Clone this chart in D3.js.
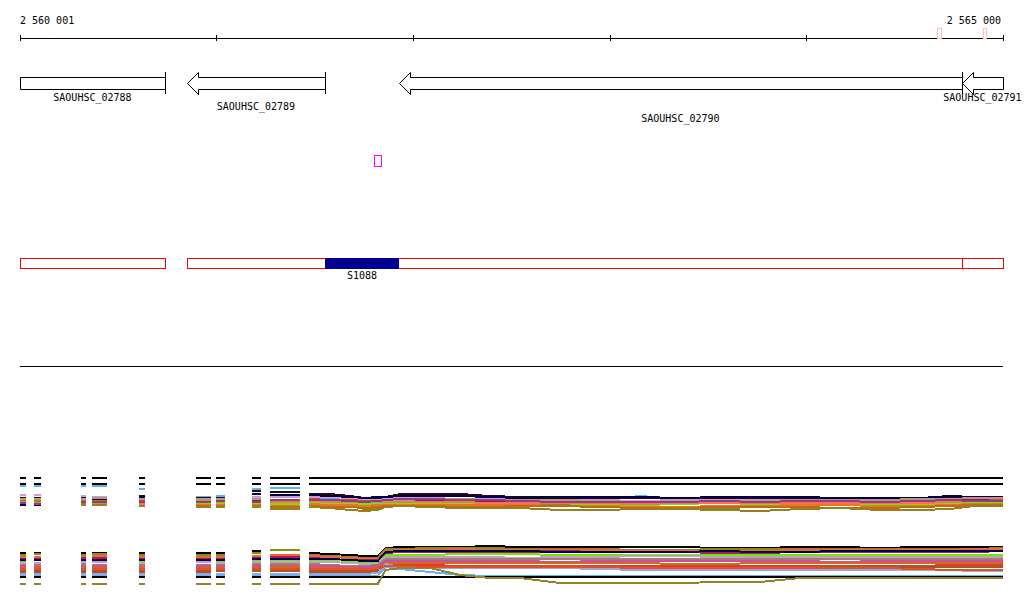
<!DOCTYPE html>
<html><head><meta charset="utf-8">
<script src="https://cdn.jsdelivr.net/npm/d3@7"></script>
<style>
body{margin:0;background:#fff;}
svg{display:block;}
text{font-family:"DejaVu Sans Mono","Liberation Mono",monospace;font-size:10px;fill:#000;}
</style>
</head><body>
<svg id="chart" width="1024" height="611"></svg>
<script>
// ---------- data ----------
const viewStart = 2560001, viewEnd = 2565000;
const axisTicks = [2560001, 2561000, 2562000, 2563000, 2564000, 2565000];
const axisLabels = ["2 560 001", "2 565 000"];

const geneNames   = ["SAOUHSC_02788", "SAOUHSC_02789", "SAOUHSC_02790", "SAOUHSC_02791"];
const geneStarts  = [2559700, 2560850, 2561928, 2564791];
const geneEnds    = [2560738, 2561552, 2564791, 2565300];
const geneStrands = ["-", "-", "-", "-"];
const geneLabelRows = [0, 1, 2, 0];

const unitStarts = [2559700, 2560850, 2564791];
const unitEnds   = [2560738, 2564791, 2565300];

const srnaNames  = ["S1088"];
const srnaStarts = [2561552];
const srnaEnds   = [2561928];

const siteStarts = [2561801];
const siteEnds   = [2561837];

const markStarts = [2564665, 2564898];
const markEnds   = [2564685, 2564914];

// coverage windows: short probe segments, then a continuous stretch
const segStarts = [2560001, 2560072, 2560311, 2560367, 2560606, 2560896, 2560998, 2561181, 2561272];
const segEnds   = [2560032, 2560108, 2560337, 2560443, 2560637, 2560972, 2561043, 2561226, 2561424];
const longPos = [2561470, 2561580, 2561680, 2561755, 2561820, 2561860, 2561935, 2562085, 2562240, 2562390,
                 2562545, 2562745, 2562950, 2563155, 2563355, 2563560, 2563765, 2563970, 2564170, 2564375,
                 2564580, 2564730, 2564855, 2565000];

const upperColors = ["#000000","#000000","#5ab4f0","#2a0a0a","#c8a0c8","#e6402a","#a0105a","#8c8c10",
                     "#66ee00","#e8781e","#c8641e","#96821a","#00004b","#ff6e50","#b49a78","#8c3c8c"];
const upperShort = [
  [42,42,42,42,42,42,42,42,42],
  [36,36,36,36,36,36,36,36,36],
  [34,34,34,34,31,23,24,31,32],
  [22,22,22,21,24,22,22,29,28],
  [25,25,24,23,21,20,20,23,23],
  [18,18,18,18,19,20,19,20,20],
  [19,19,18,17,17,18,18,19,19],
  [20,19,20,20,18,17,17,17,17],
  [16,17,16,18,18,16,16,17,16],
  [16,16,16,16,15,15,15,15,14],
  [17,17,17,17,16,14,14,14,13],
  [15,15,15,15,14,13,13,13,11],
  [15,15,22,21,23,21,21,26,25],
  [18,17,18,17,16,19,18,18,18],
  [21,21,21,22,21,21,21,21,20],
  [17,16,18,18,18,18,19,18,20]
];
const upperLong = [
  [42,42,42,42,42,42,42,42,42,42,42,42,42,42,42,42,42,42,42,42,42,42,42,42],
  [36,36,36,36,36,36,36,36,36,36,36,36,36,36,36,36,36,36,36,36,36,36,36,36],
  [21,21,20,20,20,20,20,20,20,20,20,20,20,24,21,20,20,20,20,20,20,20,20,20],
  [26,26,24,22,22,23,26,26,26,24,23,22,22,22,22,22,22,22,22,22,22,23,22,22],
  [23,23,22,21,20,21,22,22,21,21,21,20,20,19,20,20,20,19,20,20,20,21,21,20],
  [21,20,20,19,19,20,20,21,20,20,20,19,19,18,19,19,19,20,20,19,19,20,20,20],
  [19,19,18,18,18,19,19,19,19,19,18,19,18,18,18,18,19,18,18,19,19,19,20,19],
  [17,16,14,11,12,15,17,17,16,15,16,15,14,14,13,12,13,14,15,15,14,16,17,17],
  [17,17,17,16,17,17,17,17,17,17,16,17,15,15,16,17,16,16,15,15,16,16,17,17],
  [16,15,15,14,15,15,15,15,15,15,15,14,14,13,13,14,14,15,15,14,14,15,16,16],
  [14,13,13,12,13,14,14,14,13,13,14,14,13,12,12,13,13,13,12,12,13,14,15,15],
  [13,12,10,9,10,13,14,13,12,12,12,10,10,11,11,10,9,11,12,10,10,11,14,14],
  [25,24,23,22,23,23,24,24,24,23,22,23,23,23,22,23,23,23,22,22,22,24,23,23],
  [19,18,18,18,18,18,18,18,18,17,17,17,17,16,17,17,17,17,17,17,17,18,19,19],
  [20,20,19,18,18,19,20,21,21,20,20,20,19,18,19,19,19,20,20,20,21,21,22,22],
  [20,20,19,18,19,20,21,21,20,20,19,18,18,18,18,19,18,19,19,18,19,20,19,19]
];

const lowerColors = ["#000000","#8c8c10","#f0643c","#b4145a","#66ee00","#c89bc8","#a08070","#c850a0",
                     "#d2691e","#dc3c28","#000050","#a05a28","#9ba5e6","#64b4f0","#000000","#968228","#e6501e"];
const lowerShort = [
  [37,37,37,37,37,37,37,39,40],
  [35,36,35,36,35,35,35,37,40],
  [33,33,33,34,33,33,33,34,35],
  [31,31,32,32,31,31,31,32,33],
  [29,30,29,30,29,30,29,30,30],
  [27,27,28,28,27,28,27,28,28],
  [25,25,26,25,25,25,25,26,26],
  [24,23,24,24,23,24,24,24,24],
  [22,22,22,22,22,22,22,22,23],
  [20,20,20,20,20,20,20,20,21],
  [30,30,30,30,30,30,30,31,31],
  [18,18,18,18,18,18,19,19,19],
  [16,16,16,16,16,16,16,16,16],
  [14,14,14,14,14,14,14,14,14],
  [13,13,13,13,13,13,13,13,13],
  [6,6,6,6,6,6,6,6,6],
  [21,21,21,21,21,21,21,21,21]
];
const lowerLong = [
  [37,36,35,34,34,42,43,43,43,44,43,43,43,43,43,42,42,43,43,42,43,43,43,43],
  [35,34,33,32,32,41,41,42,42,42,41,41,41,40,40,41,41,41,41,41,41,41,41,42],
  [34,33,32,31,31,39,40,40,41,40,40,40,40,39,39,39,39,40,40,40,40,40,41,41],
  [32,31,30,30,30,37,38,38,38,38,38,39,38,38,38,37,37,38,38,38,38,38,38,39],
  [30,30,29,28,28,35,35,35,36,36,36,35,35,35,35,35,35,35,35,35,35,35,35,35],
  [28,28,27,26,26,33,33,33,33,33,32,33,33,34,34,33,33,33,33,33,33,33,33,33],
  [26,25,24,24,25,31,31,31,31,31,31,31,31,31,31,31,31,31,31,31,31,31,31,31],
  [24,24,23,23,24,29,29,29,29,29,29,28,29,29,29,29,29,29,28,29,29,29,29,29],
  [22,22,22,21,22,27,27,27,27,27,27,27,27,27,26,26,27,27,27,27,27,27,27,27],
  [20,20,20,20,21,25,25,25,24,24,24,24,24,24,24,24,24,24,24,24,24,25,25,25],
  [31,31,30,29,29,38,39,39,39,39,39,38,38,38,38,39,38,38,39,39,39,39,39,39],
  [18,18,18,18,19,23,23,23,23,23,22,22,22,22,22,22,22,22,23,23,23,23,23,23],
  [16,16,16,16,17,26,23,22,22,22,22,22,21,20,20,20,20,20,20,20,20,20,19,19],
  [14,14,14,14,14,23,21,18,15,14,14,14,14,14,14,14,14,14,14,14,14,14,14,14],
  [13,13,13,13,13,13,13,13,13,13,13,13,13,13,13,13,13,13,13,13,13,13,13,13],
  [6,6,6,6,6,20,22,22,15,12,12,7,7,7,7,8,8,12,12,12,12,12,12,12],
  [21,21,21,21,21,24,24,23,23,23,23,23,23,22,22,22,22,22,22,22,21,20,20,20]
];

// ---------- drawing ----------
const svg = d3.select("#chart");
const x = d3.scaleLinear().domain([viewStart, viewEnd]).range([20, 1003]);
const [xMin, xMax] = x.range();
const cx = p => Math.max(xMin, Math.min(xMax, x(p)));

// axis
const axG = svg.append("g").attr("transform", "translate(0,38)");
axG.call(d3.axisBottom(x).tickValues(axisTicks).tickSizeInner(3).tickSizeOuter(0).tickFormat(""));
const axG2 = svg.append("g").attr("transform", "translate(0,38)");
axG2.call(d3.axisTop(x).tickValues(axisTicks).tickSizeInner(3).tickSizeOuter(0).tickFormat(""));
axG2.select(".domain").remove();
svg.selectAll(".tick line, .domain").attr("stroke", "#000").attr("shape-rendering", "crispEdges");

svg.append("text").attr("x", x(viewStart)).attr("y", 24).attr("text-anchor", "start").text(axisLabels[0]);
svg.append("text").attr("x", x(viewEnd) - 2).attr("y", 24).attr("text-anchor", "end").text(axisLabels[1]);

// small marks on axis
svg.selectAll("rect.mark").data(markStarts).enter().append("rect")
  .attr("class", "mark")
  .attr("x", (d, i) => Math.round(x(d)) + 0.5)
  .attr("y", 28.5)
  .attr("width", (d, i) => Math.max(2, Math.round(x(markEnds[i]) - x(d))))
  .attr("height", 10)
  .attr("fill", "#fff").attr("stroke", "#f7c0b0").attr("shape-rendering", "crispEdges");

// genes
const bodyTop = 77, bodyBot = 89, headTop = 72, headBot = 94, midY = 83, headLen = 11;
geneNames.forEach((name, i) => {
  const s = geneStarts[i], e = geneEnds[i];
  let pts;
  if (geneStrands[i] === "-") {
    const tip = x(s), right = cx(e);
    if (s >= viewStart) {
      const hb = tip + headLen;
      pts = [[tip, midY], [hb, headTop], [hb, bodyTop], [right, bodyTop], [right, bodyBot], [hb, bodyBot], [hb, headBot]];
    } else {
      const l = cx(s);
      pts = [[l, bodyTop], [right, bodyTop], [right, bodyBot], [l, bodyBot]];
    }
  }
  const poly = pts.map(p => [Math.round(p[0]) + 0.5, p[1] + 0.5]);
  svg.append("path").attr("d", "M" + poly.join("L") + "Z")
    .attr("fill", "#fff").attr("stroke", "#000").attr("stroke-width", 1);
  if (geneStrands[i] === "-" && e <= viewEnd) {
    const xe = Math.round(x(e)) + 0.5;
    svg.append("line").attr("x1", xe).attr("x2", xe).attr("y1", headTop).attr("y2", headBot)
      .attr("stroke", "#000").attr("shape-rendering", "crispEdges");
  }
  const labelRowY = [101, 110, 122];
  svg.append("text").attr("x", (cx(s) + cx(e)) / 2).attr("y", labelRowY[geneLabelRows[i]])
    .attr("text-anchor", "middle").text(name);
});

// site (magenta)
siteStarts.forEach((s, i) => {
  svg.append("rect").attr("x", Math.round(x(s)) + 0.5).attr("y", 155.5)
    .attr("width", Math.round(x(siteEnds[i]) - x(s))).attr("height", 11)
    .attr("fill", "none").attr("stroke", "#ff00ff").attr("shape-rendering", "crispEdges");
});

// transcription units
unitStarts.forEach((s, i) => {
  const l = Math.round(cx(s)), r = Math.round(cx(unitEnds[i]));
  svg.append("rect").attr("x", l + 0.5).attr("y", 258.5).attr("width", r - l).attr("height", 10)
    .attr("fill", "#fff").attr("stroke", "#ff0000").attr("shape-rendering", "crispEdges");
});
srnaNames.forEach((n, i) => {
  const l = Math.round(x(srnaStarts[i])), r = Math.round(x(srnaEnds[i]));
  svg.append("rect").attr("x", l).attr("y", 258).attr("width", r - l).attr("height", 11)
    .attr("fill", "#000090").attr("shape-rendering", "crispEdges");
  svg.append("text").attr("x", (l + r) / 2).attr("y", 279).attr("text-anchor", "middle").text(n);
});

// separator
svg.append("line").attr("x1", xMin).attr("x2", xMax).attr("y1", 366.5).attr("y2", 366.5)
  .attr("stroke", "#000").attr("shape-rendering", "crispEdges");

// coverage panels
function buildPoints(shortVals, longVals) {
  const pts = [];
  segStarts.forEach((s, i) => {
    pts.push({ p: s, v: shortVals[i] });
    pts.push({ p: segEnds[i], v: shortVals[i] });
    pts.push({ p: null, v: null });
  });
  longPos.forEach((p, i) => pts.push({ p: p, v: longVals[i] }));
  return pts;
}
function drawPanel(yScale, shortArr, longArr, colors) {
  const line = d3.line().defined(d => d.v != null).x(d => x(d.p)).y(d => Math.round(yScale(d.v)));
  const g = svg.append("g");
  shortArr.forEach((sv, i) => {
    g.append("path").attr("d", line(buildPoints(sv, longArr[i])))
      .attr("fill", "none").attr("stroke", colors[i]).attr("stroke-width", 2)
      .attr("shape-rendering", "crispEdges");
  });
}
const yUpper = d3.scaleLinear().domain([0, 44]).range([520, 476]);
const yLower = d3.scaleLinear().domain([0, 44]).range([590, 546]);
drawPanel(yUpper, upperShort, upperLong, upperColors);
drawPanel(yLower, lowerShort, lowerLong, lowerColors);
</script>
</body></html>
